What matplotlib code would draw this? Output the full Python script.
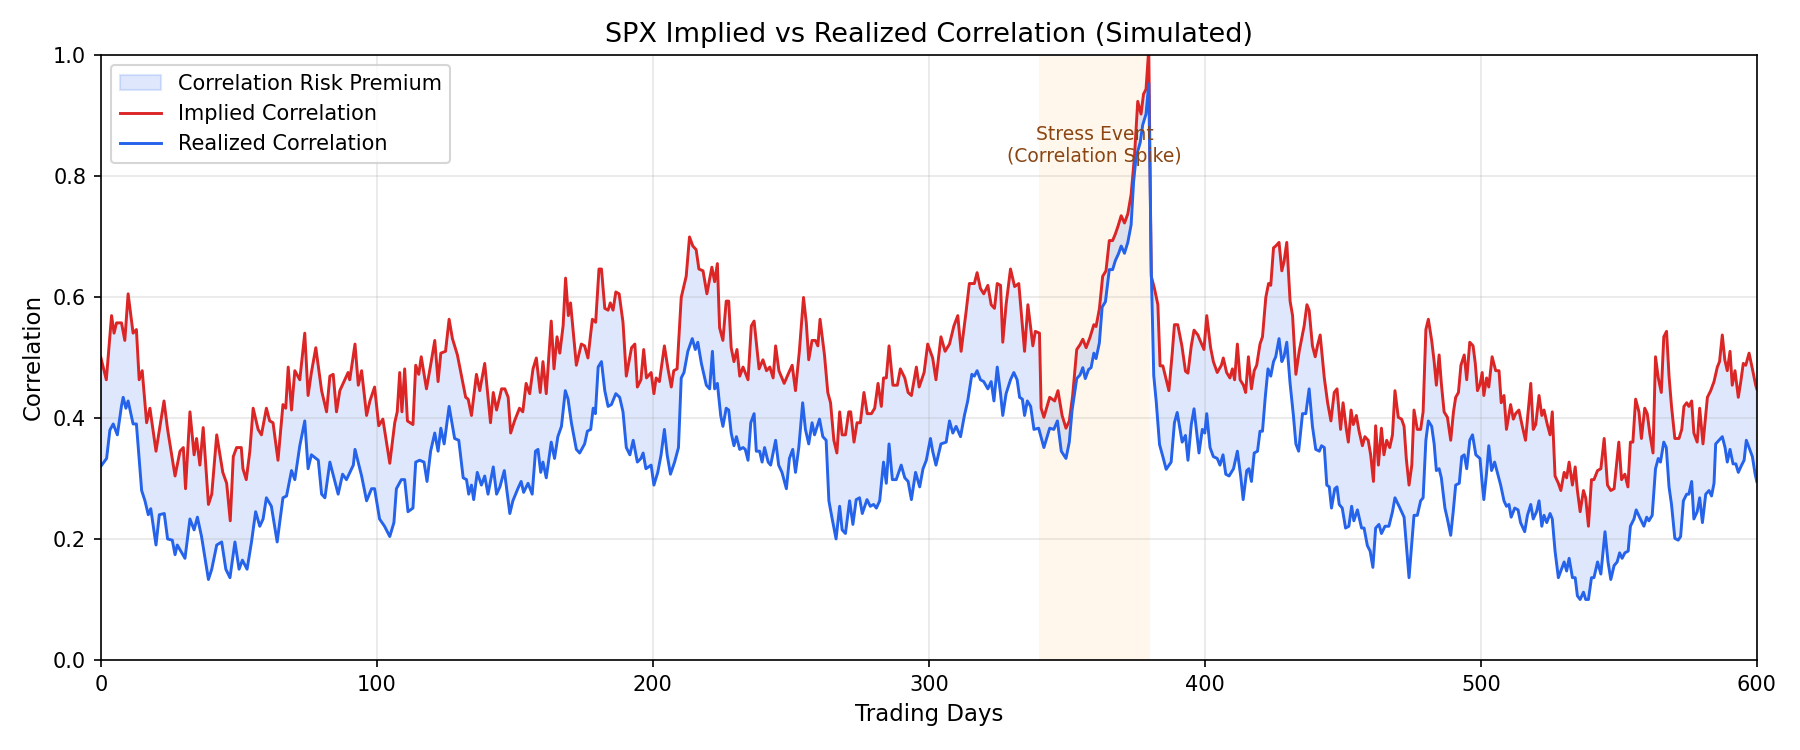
import numpy as np
import matplotlib
matplotlib.use("Agg")
import matplotlib.pyplot as plt

# values (trading day, correlation)
implied_days = [
    0, 2, 3.9, 4.8, 5.7, 7.5, 8.7, 9.9, 11.7, 12.9, 13.9, 15, 16.6, 17.8, 20, 22.9, 24.2, 26.9, 28.7, 29.9,
    30.7, 32.3, 33.8, 34.7, 35.9, 37.1, 39, 40.2, 42, 44.2, 45.6, 46.9, 48, 49.2, 50.9, 51.5, 52.7, 54, 55.2, 57,
    58.2, 60, 61.2, 62.4, 64.2, 66, 67, 67.9, 69.1, 70.3, 72.1, 73.9, 75.1, 76.3, 77.9, 80, 81.8, 83, 84.2, 85.4,
    86.6, 89.6, 90.2, 92.1, 93.3, 94.5, 96.3, 97.5, 99.2, 100.7, 102.2, 104.7, 106.5, 107.4, 108.3, 109.1, 110.1,
    111.1, 113.1, 114.1, 115.2, 116.1, 118, 119.5, 121, 122.2, 123.2, 124.9, 126.2, 127.4, 129.2, 132.2, 133.1,
    134.3, 136.1, 137.3, 139.1, 141.2, 142.2, 143.4, 145.2, 146.4, 147.6, 148.5, 149.9, 151.7, 152.9, 154.1,
    155.4, 156.6, 157.8, 159.2, 160.2, 161.4, 163.2, 164.2, 165.3, 166.3, 167.5, 168.4, 169.4, 170.2, 172.3,
    174.1, 175.3, 176.5, 178.1, 179.3, 180.5, 181.4, 182.6, 183.8, 184.6, 185.6, 186.6, 187.8, 189.2, 190.4,
    192.3, 193.5, 194.4, 195.7, 196.7, 197.7, 199.4, 200.4, 201.2, 202.4, 204.2, 205.5, 206.7, 207.6, 208.8,
    210.3, 212.1, 213.3, 214.5, 215.7, 216.7, 218.2, 219.6, 221.4, 222.4, 223.4, 224.2, 225.4, 226.6, 227.5,
    228.4, 229.4, 230.5, 231.5, 232.7, 234.5, 235.7, 236.7, 238.5, 239.9, 241.2, 242.4, 243.6, 244.5, 245.7,
    247.6, 249.3, 250.5, 251.7, 253.1, 254.6, 255.6, 256.5, 257.7, 258.9, 259.8, 260.6, 262.2, 263.4, 264.4,
    265.6, 266.7, 267.7, 268.6, 269.8, 271, 271.7, 272.9, 274, 275.2, 276.5, 277.7, 279.2, 280.4, 281.6, 282.8,
    283.6, 284.6, 285.6, 287, 288.6, 289.7, 291.3, 292.5, 293.7, 295.5, 296.5, 298.3, 299.6, 301.4, 302.6,
    304.4, 305.9, 307.5, 309.1, 310.5, 311.7, 313.5, 314.7, 316.5, 317.5, 318.7, 319.9, 321.4, 322.6, 323.8,
    324.8, 326, 326.8, 328, 329.6, 331.1, 332.6, 334.7, 335.9, 337.7, 338.6, 340.1, 340.7, 341.7, 343.8, 345.6,
    346.8, 348.3, 349.7, 350.9, 352.1, 353.6, 354.8, 355.8, 357, 358.4, 359.8, 360.6, 361.8, 363, 364.2, 365.4,
    366.6, 367.6, 368.5, 369.7, 370.9, 372.1, 373.3, 374.5, 375.7, 376.9, 377.8, 378.7, 379.7, 380.6, 381.8,
    383, 383.8, 384.8, 387, 388.2, 389, 390.2, 391.7, 393, 393.9, 395.1, 396.1, 397.5, 398.1, 399.7, 400.7,
    402.1, 403.1, 404.5, 406, 406.7, 407.9, 409.1, 410, 410.8, 411.8, 412.8, 414, 414.8, 415.8, 416.9, 417.9,
    418.8, 420, 420.9, 422.1, 423.1, 423.9, 424.9, 425.7, 426.9, 427.9, 428.7, 429.7, 430.9, 431.8, 433, 434.2,
    436, 437, 437.8, 439, 440, 440.8, 441.8, 443.3, 444.5, 445.7, 446.9, 447.9, 449.2, 450.1, 451.3, 452, 453,
    453.8, 454.9, 455.9, 457.1, 458, 459.2, 460.1, 461.1, 461.9, 462.9, 464, 464.9, 465.9, 467, 468, 468.9,
    470.1, 471.3, 472.2, 473, 474, 475, 475.8, 477, 478.2, 479.1, 480.1, 481, 482.2, 483.1, 483.9, 484.9, 485.7,
    486.7, 487.9, 489.1, 490.1, 490.9, 491.9, 492.8, 494, 494.9, 496, 497.2, 498, 498.8, 499.7, 500.5, 501.1,
    502.1, 502.9, 504.1, 505.4, 506.6, 507.4, 508.4, 509.3, 510.8, 511.8, 512.6, 513.8, 515, 516.2, 517.1,
    518.1, 519, 519.9, 521.1, 522.1, 522.9, 524.1, 525.1, 525.9, 526.9, 528.1, 529, 530.2, 531.1, 532, 533.2,
    534.2, 535, 536, 537.2, 538, 539, 540.1, 541, 542.3, 543.5, 544.7, 545.9, 547.1, 548.3, 550, 551, 552.2,
    553.3, 554.2, 555.1, 556.1, 557.3, 558.2, 559.4, 560.3, 561.3, 562.4, 563.3, 564.3, 565.4, 566.3, 567.3,
    568.2, 569.1, 570.3, 571.8, 572.8, 573.6, 574.6, 575.4, 576.4, 577.2, 578.4, 579.3, 580.5, 582.1, 583.3,
    584.5, 585.7, 586.5, 587.5, 588.4, 589.3, 590.3, 591.1, 592.1, 593.3, 594.2, 595.1, 596, 597.2, 598.4,
    599.6, 600,
]
implied_corr = [
    0.50, 0.463, 0.569, 0.540, 0.557, 0.557, 0.528, 0.605, 0.540, 0.546, 0.463, 0.478, 0.392, 0.416, 0.345, 0.428,
    0.381, 0.304, 0.345, 0.351, 0.283, 0.410, 0.339, 0.366, 0.322, 0.384, 0.257, 0.274, 0.372, 0.310, 0.292, 0.230,
    0.336, 0.351, 0.351, 0.316, 0.298, 0.345, 0.416, 0.381, 0.372, 0.416, 0.395, 0.392, 0.330, 0.422, 0.416, 0.484,
    0.413, 0.478, 0.463, 0.540, 0.437, 0.475, 0.516, 0.445, 0.410, 0.469, 0.472, 0.410, 0.445, 0.475, 0.463, 0.522,
    0.454, 0.478, 0.404, 0.428, 0.451, 0.387, 0.398, 0.325, 0.392, 0.410, 0.475, 0.410, 0.481, 0.395, 0.389, 0.487,
    0.472, 0.501, 0.448, 0.487, 0.528, 0.460, 0.507, 0.510, 0.563, 0.531, 0.504, 0.434, 0.431, 0.404, 0.472, 0.445,
    0.490, 0.392, 0.442, 0.413, 0.448, 0.448, 0.434, 0.375, 0.395, 0.416, 0.410, 0.457, 0.440, 0.481, 0.499, 0.442,
    0.493, 0.440, 0.560, 0.481, 0.534, 0.507, 0.552, 0.631, 0.569, 0.590, 0.487, 0.522, 0.519, 0.499, 0.563, 0.558,
    0.646, 0.646, 0.581, 0.578, 0.590, 0.578, 0.608, 0.605, 0.558, 0.469, 0.516, 0.522, 0.451, 0.463, 0.513, 0.466,
    0.475, 0.440, 0.466, 0.460, 0.519, 0.481, 0.451, 0.478, 0.481, 0.599, 0.634, 0.699, 0.684, 0.678, 0.646, 0.643,
    0.605, 0.649, 0.625, 0.655, 0.549, 0.528, 0.593, 0.593, 0.516, 0.493, 0.513, 0.469, 0.484, 0.463, 0.552, 0.560,
    0.481, 0.496, 0.478, 0.484, 0.466, 0.519, 0.478, 0.457, 0.475, 0.487, 0.445, 0.510, 0.599, 0.558, 0.496, 0.528,
    0.528, 0.519, 0.563, 0.504, 0.442, 0.425, 0.363, 0.342, 0.410, 0.372, 0.372, 0.410, 0.410, 0.360, 0.392, 0.392,
    0.442, 0.407, 0.407, 0.416, 0.457, 0.419, 0.466, 0.466, 0.519, 0.454, 0.454, 0.481, 0.466, 0.442, 0.437, 0.484,
    0.451, 0.475, 0.522, 0.499, 0.463, 0.534, 0.510, 0.522, 0.552, 0.569, 0.510, 0.575, 0.622, 0.622, 0.640, 0.614,
    0.605, 0.619, 0.587, 0.581, 0.622, 0.619, 0.525, 0.587, 0.646, 0.617, 0.622, 0.510, 0.587, 0.519, 0.543, 0.540,
    0.416, 0.401, 0.434, 0.428, 0.445, 0.404, 0.383, 0.395, 0.436, 0.513, 0.521, 0.530, 0.516, 0.533, 0.554, 0.551,
    0.580, 0.634, 0.643, 0.693, 0.693, 0.704, 0.716, 0.734, 0.722, 0.737, 0.769, 0.831, 0.923, 0.902, 0.935, 0.943,
    1.01, 0.634, 0.613, 0.587, 0.486, 0.486, 0.445, 0.507, 0.554, 0.554, 0.519, 0.477, 0.474, 0.519, 0.545, 0.537,
    0.530, 0.513, 0.569, 0.516, 0.493, 0.475, 0.487, 0.499, 0.475, 0.466, 0.481, 0.463, 0.522, 0.463, 0.454, 0.442,
    0.501, 0.448, 0.478, 0.487, 0.522, 0.534, 0.599, 0.622, 0.619, 0.681, 0.684, 0.690, 0.643, 0.658, 0.690, 0.593,
    0.569, 0.472, 0.510, 0.552, 0.587, 0.578, 0.519, 0.501, 0.519, 0.537, 0.466, 0.425, 0.395, 0.442, 0.448, 0.381,
    0.425, 0.381, 0.360, 0.413, 0.389, 0.404, 0.378, 0.354, 0.369, 0.363, 0.339, 0.295, 0.387, 0.322, 0.383, 0.339,
    0.363, 0.351, 0.372, 0.445, 0.401, 0.398, 0.386, 0.333, 0.289, 0.322, 0.413, 0.381, 0.381, 0.410, 0.546, 0.563,
    0.528, 0.493, 0.454, 0.504, 0.457, 0.410, 0.401, 0.363, 0.410, 0.434, 0.442, 0.487, 0.504, 0.463, 0.525, 0.519,
    0.490, 0.445, 0.455, 0.475, 0.437, 0.466, 0.451, 0.501, 0.478, 0.478, 0.425, 0.437, 0.381, 0.422, 0.398, 0.407,
    0.413, 0.387, 0.363, 0.407, 0.457, 0.381, 0.389, 0.437, 0.404, 0.413, 0.389, 0.372, 0.410, 0.304, 0.292, 0.280,
    0.310, 0.301, 0.327, 0.289, 0.319, 0.280, 0.245, 0.280, 0.268, 0.221, 0.298, 0.298, 0.313, 0.316, 0.366, 0.289,
    0.280, 0.283, 0.360, 0.298, 0.307, 0.286, 0.360, 0.360, 0.431, 0.410, 0.366, 0.416, 0.407, 0.372, 0.342, 0.501,
    0.466, 0.442, 0.534, 0.543, 0.469, 0.419, 0.366, 0.366, 0.381, 0.419, 0.425, 0.419, 0.428, 0.375, 0.360, 0.416,
    0.357, 0.434, 0.445, 0.460, 0.484, 0.493, 0.537, 0.496, 0.478, 0.510, 0.454, 0.478, 0.434, 0.460, 0.490, 0.487,
    0.507, 0.481, 0.454, 0.448,
]

realized_days = [
    0, 2.1, 3.3, 4.5, 6, 7.5, 8.1, 9.1, 9.9, 11.7, 12.9, 14.8, 16, 17.2, 18.1, 20, 21.2, 23, 24.2, 25.9, 26.9,
    27.7, 30.5, 32.3, 33.8, 35, 36.5, 39, 40.2, 42, 43.8, 45.3, 46.8, 48.6, 50.1, 51.3, 53, 54.6, 56.1, 57.6,
    58.8, 60, 61.8, 63.9, 66, 67.3, 69.1, 70.3, 72.1, 73.9, 75.1, 76.3, 78.8, 80, 81.2, 83, 86, 87.6, 89, 91.5,
    92.1, 94.5, 96.3, 98.1, 99.2, 101, 102.8, 104.7, 106.2, 107.1, 108.9, 110.1, 111.3, 113.1, 114.1, 115.5,
    117.1, 118.2, 119.5, 121, 122.2, 123.2, 124.4, 126.2, 128.2, 129.7, 131.3, 132.5, 133.3, 134.3, 135.1,
    136.4, 137.9, 139.1, 140.3, 142.2, 143.4, 144.6, 146.2, 148.2, 149.3, 151.1, 152.3, 153.2, 154.8, 156.3,
    157.5, 158.4, 159.4, 160.2, 161.4, 163.2, 164.4, 165.6, 166.9, 168.3, 169.3, 170.5, 172.3, 173.5, 175.3,
    176.3, 177.5, 178.4, 179.2, 180.2, 181.4, 182.6, 183.8, 185, 186.6, 188, 189.2, 190.4, 191.7, 192.9, 194.4,
    195.7, 196.5, 197.5, 199.4, 200.4, 201.8, 203, 204.2, 205.2, 206.4, 207.9, 209.3, 210.3, 211.3, 212.7,
    214.3, 215.4, 216.3, 217.6, 219.4, 220.6, 221.6, 222.4, 223.4, 224.6, 225.4, 226.6, 227.5, 228.4, 229.4,
    230.3, 231.5, 232.7, 233.5, 234.5, 235.5, 236.7, 237.5, 238.7, 239.6, 240.5, 241.8, 242.7, 244.5, 245.6,
    246.8, 248.4, 249.5, 250.7, 251.7, 252.9, 254.3, 255.3, 256.5, 257.7, 258.6, 260.4, 261.6, 262.8, 263.8,
    265, 266.4, 267.7, 268.6, 269.8, 271.3, 272.5, 273.7, 274.9, 275.9, 277.6, 278.8, 280, 281, 282.2, 283.6,
    284.6, 285.6, 286.8, 288.2, 290, 291.3, 292.5, 293.7, 295.2, 296.7, 297.9, 299.1, 300.6, 301.4, 302.6,
    304.4, 306.3, 307.5, 308.7, 309.9, 311.5, 312.9, 314.1, 315.6, 316.5, 317.5, 318.7, 319.9, 321.4, 322.6,
    323.6, 324.8, 326, 326.8, 328, 329.6, 330.8, 332, 332.9, 333.9, 334.7, 335.7, 336.9, 338.1, 339.8, 341.7,
    343.8, 345.3, 346.6, 348, 349.7, 350.9, 351.9, 353.6, 354.8, 355.8, 356.7, 357.9, 358.8, 359.8, 360.6,
    361.8, 362.8, 364, 365.4, 366.6, 367.6, 368.8, 369.7, 370.9, 372.1, 373.3, 374.2, 375.1, 376.6, 377.5,
    378.7, 379.7, 380.6, 381.5, 382.4, 383.6, 384.8, 386, 387.8, 389, 390, 391.8, 393, 393.9, 395.1, 396.1,
    397.9, 399.1, 400, 400.7, 401.9, 403.1, 404.5, 405.5, 406.6, 407.6, 408.8, 410.4, 411.8, 413, 413.9, 415.2,
    416, 416.9, 417.9, 419.1, 420, 420.9, 421.9, 422.9, 423.9, 424.9, 425.7, 426.9, 427.9, 428.7, 429.7, 430.9,
    432.1, 433, 434, 435.4, 436.6, 437.8, 439, 440.2, 441.5, 442.3, 443.3, 444.2, 445.1, 445.9, 447.1, 447.9,
    448.7, 449.8, 451, 452.2, 453.2, 454, 455.3, 456.8, 457.7, 458.9, 459.9, 460.9, 461.9, 463.1, 464, 465.3,
    466.7, 468, 468.9, 470.4, 471.3, 472.2, 473, 474, 475, 475.8, 477, 478.2, 479.1, 480.1, 481, 482.2, 483.1,
    483.9, 484.9, 485.7, 487, 487.9, 489.1, 490, 490.9, 492.2, 493.1, 494, 494.9, 496, 497, 498.2, 499.7, 500.5,
    501.1, 502.1, 502.9, 503.9, 505, 506, 507.2, 508.4, 509.3, 510.2, 511, 512.3, 513.5, 514.4, 515.9, 516.9,
    518.1, 519, 520.2, 521.1, 522.1, 522.9, 523.9, 525.1, 525.9, 526.9, 528.1, 529, 530.2, 531.1, 532, 533.2,
    534.2, 535, 536, 537.2, 538, 539, 540.1, 541, 542.3, 543.5, 545, 546.1, 547.1, 548.3, 549.4, 550.3, 551.2,
    552.2, 553.4, 554.2, 555.5, 556.3, 557.5, 559.1, 560.1, 560.9, 562.1, 563.3, 564.3, 565.1, 566.3, 567.2,
    568.2, 569.1, 570.3, 571.5, 572.4, 573.4, 574.6, 575.4, 576.4, 577.2, 578.4, 579.3, 580.3, 581.5, 582.7,
    583.6, 584.5, 585.1, 586.3, 587.5, 588.5, 589.3, 590.3, 591.4, 592.4, 593.3, 594.5, 595.4, 596.2, 597.2,
    598.4, 599.4, 600,
]
realized_corr = [
    0.320, 0.333, 0.380, 0.390, 0.372, 0.420, 0.434, 0.416, 0.428, 0.390, 0.390, 0.280, 0.263, 0.240, 0.250, 0.190,
    0.240, 0.242, 0.200, 0.198, 0.174, 0.190, 0.168, 0.233, 0.215, 0.236, 0.204, 0.133, 0.150, 0.190, 0.195, 0.150,
    0.136, 0.195, 0.150, 0.165, 0.150, 0.195, 0.245, 0.221, 0.233, 0.268, 0.254, 0.195, 0.268, 0.271, 0.313, 0.298,
    0.354, 0.395, 0.316, 0.339, 0.330, 0.274, 0.268, 0.327, 0.274, 0.307, 0.298, 0.322, 0.348, 0.304, 0.263, 0.283,
    0.283, 0.233, 0.221, 0.204, 0.227, 0.283, 0.298, 0.298, 0.245, 0.251, 0.327, 0.330, 0.327, 0.295, 0.345, 0.375,
    0.345, 0.383, 0.357, 0.419, 0.366, 0.363, 0.301, 0.298, 0.274, 0.289, 0.265, 0.310, 0.289, 0.304, 0.274, 0.319,
    0.274, 0.286, 0.313, 0.242, 0.263, 0.283, 0.295, 0.277, 0.292, 0.274, 0.345, 0.348, 0.310, 0.327, 0.301, 0.360,
    0.333, 0.369, 0.386, 0.445, 0.431, 0.392, 0.348, 0.342, 0.357, 0.378, 0.381, 0.416, 0.407, 0.484, 0.493, 0.445,
    0.419, 0.422, 0.440, 0.434, 0.410, 0.351, 0.339, 0.363, 0.327, 0.333, 0.342, 0.316, 0.322, 0.289, 0.310, 0.339,
    0.381, 0.339, 0.307, 0.327, 0.351, 0.466, 0.475, 0.510, 0.531, 0.513, 0.525, 0.490, 0.454, 0.448, 0.510, 0.448,
    0.457, 0.404, 0.386, 0.416, 0.413, 0.375, 0.354, 0.369, 0.348, 0.351, 0.348, 0.330, 0.392, 0.407, 0.345, 0.345,
    0.327, 0.351, 0.327, 0.322, 0.363, 0.322, 0.310, 0.283, 0.333, 0.348, 0.310, 0.351, 0.425, 0.381, 0.357, 0.392,
    0.372, 0.398, 0.369, 0.363, 0.263, 0.233, 0.200, 0.254, 0.215, 0.209, 0.263, 0.224, 0.265, 0.268, 0.242, 0.265,
    0.254, 0.257, 0.251, 0.263, 0.327, 0.292, 0.357, 0.298, 0.298, 0.322, 0.301, 0.295, 0.265, 0.310, 0.286, 0.316,
    0.330, 0.366, 0.345, 0.322, 0.357, 0.360, 0.395, 0.375, 0.386, 0.369, 0.404, 0.428, 0.472, 0.469, 0.478, 0.463,
    0.460, 0.448, 0.460, 0.428, 0.484, 0.440, 0.404, 0.440, 0.463, 0.475, 0.463, 0.434, 0.431, 0.404, 0.428, 0.419,
    0.381, 0.383, 0.351, 0.383, 0.381, 0.395, 0.345, 0.333, 0.360, 0.412, 0.465, 0.471, 0.483, 0.465, 0.480, 0.483,
    0.507, 0.498, 0.524, 0.583, 0.592, 0.645, 0.645, 0.660, 0.672, 0.684, 0.672, 0.690, 0.719, 0.790, 0.831, 0.855,
    0.884, 0.902, 0.952, 0.645, 0.470, 0.427, 0.356, 0.336, 0.315, 0.327, 0.392, 0.409, 0.360, 0.371, 0.330, 0.389,
    0.415, 0.342, 0.381, 0.375, 0.407, 0.351, 0.336, 0.333, 0.322, 0.339, 0.307, 0.304, 0.316, 0.345, 0.304, 0.265,
    0.313, 0.316, 0.295, 0.342, 0.345, 0.378, 0.378, 0.434, 0.481, 0.469, 0.493, 0.501, 0.531, 0.493, 0.501, 0.525,
    0.457, 0.404, 0.357, 0.345, 0.407, 0.407, 0.448, 0.386, 0.348, 0.345, 0.354, 0.351, 0.289, 0.286, 0.251, 0.283,
    0.286, 0.257, 0.251, 0.218, 0.221, 0.254, 0.230, 0.248, 0.218, 0.218, 0.189, 0.180, 0.153, 0.218, 0.224, 0.209,
    0.221, 0.221, 0.245, 0.268, 0.254, 0.245, 0.236, 0.192, 0.136, 0.192, 0.239, 0.239, 0.263, 0.268, 0.363, 0.395,
    0.386, 0.357, 0.313, 0.316, 0.301, 0.251, 0.233, 0.206, 0.245, 0.289, 0.292, 0.336, 0.339, 0.316, 0.363, 0.372,
    0.339, 0.333, 0.292, 0.265, 0.310, 0.354, 0.313, 0.327, 0.310, 0.289, 0.263, 0.254, 0.257, 0.236, 0.251, 0.248,
    0.227, 0.212, 0.239, 0.257, 0.233, 0.245, 0.263, 0.221, 0.239, 0.227, 0.242, 0.233, 0.180, 0.136, 0.147, 0.162,
    0.147, 0.168, 0.136, 0.136, 0.106, 0.100, 0.112, 0.100, 0.100, 0.136, 0.136, 0.162, 0.142, 0.212, 0.162, 0.133,
    0.156, 0.162, 0.177, 0.168, 0.177, 0.180, 0.221, 0.233, 0.248, 0.236, 0.221, 0.236, 0.230, 0.239, 0.316, 0.333,
    0.327, 0.360, 0.351, 0.286, 0.257, 0.201, 0.198, 0.204, 0.263, 0.274, 0.274, 0.295, 0.233, 0.245, 0.268, 0.227,
    0.274, 0.280, 0.271, 0.292, 0.357, 0.363, 0.369, 0.351, 0.327, 0.348, 0.324, 0.324, 0.310, 0.322, 0.330, 0.363,
    0.351, 0.336, 0.307, 0.295,
]

stress_window = (340, 380)

implied_days = np.array(implied_days)
implied_corr = np.array(implied_corr)
realized_days = np.array(realized_days)
realized_corr = np.array(realized_corr)

red = '#dc2626'
blue = '#2563eb'

fig, ax = plt.subplots(figsize=(12, 5), dpi=150)

ax.axvspan(stress_window[0], stress_window[1], color='orange', alpha=0.08, lw=0)

# shaded band between the two curves
band = ax.fill(np.concatenate([implied_days, realized_days[::-1]]),
               np.concatenate([implied_corr, realized_corr[::-1]]),
               color=blue, alpha=0.15, lw=1, label='Correlation Risk Premium')[0]

l1, = ax.plot(implied_days, implied_corr, color=red, lw=1.4, label='Implied Correlation')
l2, = ax.plot(realized_days, realized_corr, color=blue, lw=1.4, label='Realized Correlation')

ax.text(sum(stress_window) / 2, 0.85, 'Stress Event\n(Correlation Spike)',
        ha='center', va='center', fontsize=9, color='#8b4513')

ax.set_xlim(0, 600)
ax.set_ylim(0, 1)
ax.set_xlabel('Trading Days', fontsize=11)
ax.set_ylabel('Correlation', fontsize=11)
ax.set_title('SPX Implied vs Realized Correlation (Simulated)', fontsize=13)
ax.grid(True, alpha=0.3)
ax.legend(handles=[band, l1, l2], loc='upper left', fontsize=10)

plt.subplots_adjust(left=0.056, right=0.976, top=0.927, bottom=0.12)
plt.savefig('out.png', dpi=150)
